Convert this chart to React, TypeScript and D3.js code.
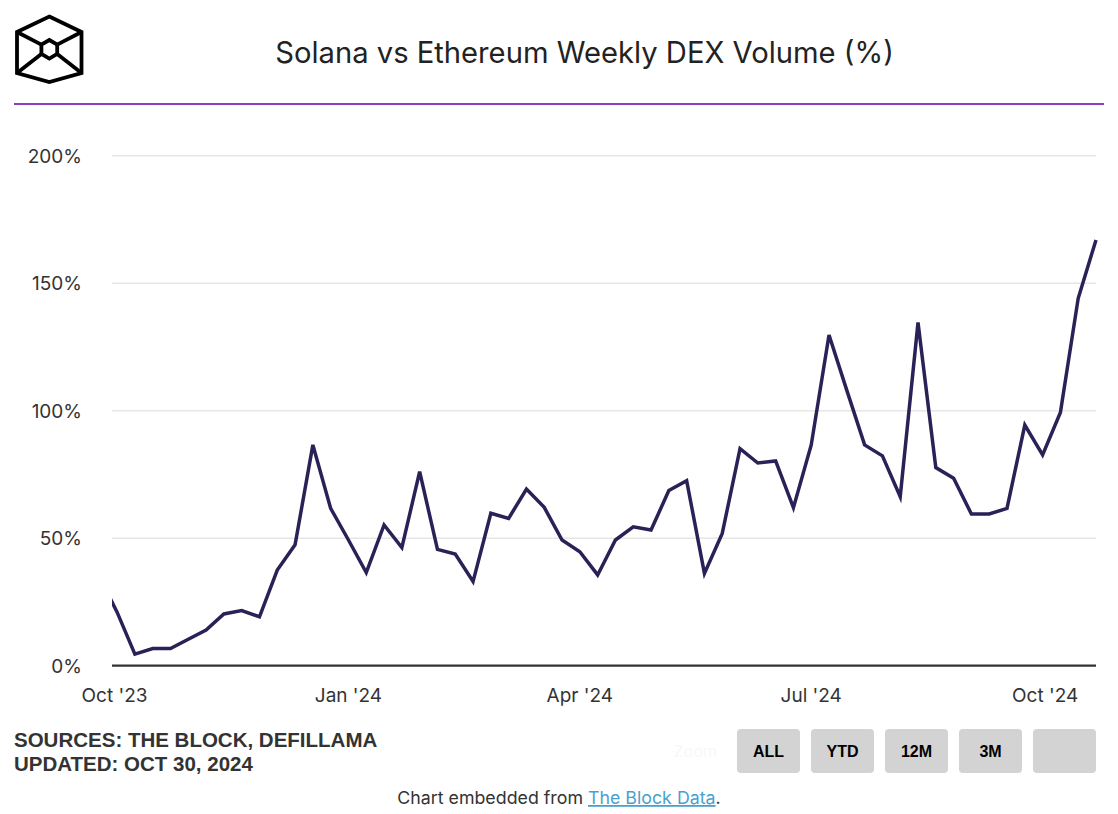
import React from "react";
import * as d3 from "d3";

const weekDates: string[] = [
  "2023-09-25", "2023-10-02", "2023-10-09", "2023-10-16", "2023-10-23", "2023-10-30",
  "2023-11-06", "2023-11-13", "2023-11-20", "2023-11-27",
  "2023-12-04", "2023-12-11", "2023-12-18", "2023-12-25",
  "2024-01-01", "2024-01-08", "2024-01-15", "2024-01-22", "2024-01-29",
  "2024-02-05", "2024-02-12", "2024-02-19", "2024-02-26",
  "2024-03-04", "2024-03-11", "2024-03-18", "2024-03-25",
  "2024-04-01", "2024-04-08", "2024-04-15", "2024-04-22", "2024-04-29",
  "2024-05-06", "2024-05-13", "2024-05-20", "2024-05-27",
  "2024-06-03", "2024-06-10", "2024-06-17", "2024-06-24",
  "2024-07-01", "2024-07-08", "2024-07-15", "2024-07-22", "2024-07-29",
  "2024-08-05", "2024-08-12", "2024-08-19", "2024-08-26",
  "2024-09-02", "2024-09-09", "2024-09-16", "2024-09-23", "2024-09-30",
  "2024-10-07", "2024-10-14", "2024-10-21",
];

const solVsEthPct: number[] = [
  35, 21, 4.5, 6.7, 6.7, 10.4,
  14.0, 20.3, 21.6, 19.2,
  37.5, 47.4, 86.6, 61.7,
  49.3, 36.5, 55.2, 46.3, 76.1,
  45.6, 43.8, 33.0, 59.8,
  57.8, 69.3, 62.1, 49.3,
  44.7, 35.6, 49.3, 54.5, 53.2,
  68.7, 72.6, 36.2, 51.9,
  85.1, 79.5, 80.3, 62.0,
  86.6, 129.7, 108, 86.6, 82.3,
  66.3, 134.6, 77.7, 73.5,
  59.5, 59.5, 61.7, 94.4, 82.7,
  99.3, 144.1, 167.0,
];

const xDomain: string[] = ["2023-09-30", "2024-10-21"];
const xTickDates: string[] = ["2023-10-01", "2024-01-01", "2024-04-01", "2024-07-01", "2024-10-01"];
const xTickLabels: string[] = ["Oct '23", "Jan '24", "Apr '24", "Jul '24", "Oct '24"];
const yTicks: number[] = [0, 50, 100, 150, 200];
const rangeButtons: string[] = ["ALL", "YTD", "12M", "3M", ""];

const TITLE = "Solana vs Ethereum Weekly DEX Volume (%)";
const SOURCES = "SOURCES: THE BLOCK, DEFILLAMA";
const UPDATED = "UPDATED: OCT 30, 2024";

const W = 1118;
const H = 814;
const plot = { left: 112, right: 1096, top: 155.8, bottom: 665.7 };

const parse = d3.timeParse("%Y-%m-%d");

export default function App() {
  const x = d3
    .scaleTime()
    .domain(xDomain.map((d) => parse(d) as Date))
    .range([plot.left, plot.right]);
  const y = d3.scaleLinear().domain([0, 200]).range([plot.bottom, plot.top]);

  const pts = weekDates.map((d, i) => ({ date: parse(d) as Date, v: solVsEthPct[i] }));
  const line = d3
    .line<{ date: Date; v: number }>()
    .x((d) => x(d.date))
    .y((d) => y(d.v));

  const sansFont = "Inter, 'Noto Sans', sans-serif";
  const boldFont = "'Liberation Sans', Arial, Helvetica, sans-serif";

  const btnX0 = 737;
  const btnW = 63;
  const btnGap = 11;

  return (
    <div style={{ position: "absolute", left: 0, top: 0, width: W, height: H, background: "#fff" }}>
      <svg width={W} height={H} viewBox={`0 0 ${W} ${H}`} style={{ display: "block" }}>
        <rect x={0} y={0} width={W} height={H} fill="#ffffff" />
        {/* logo */}
        <g fill="none" stroke="#000" strokeWidth={3.8} strokeLinejoin="miter">
          <polygon points="49.3,16.5 81.5,32 81.5,73 49.3,82 17,73 17,32" />
          <polygon points="49.3,40 57.2,44.6 57.2,54 49.3,58.6 41.4,54 41.4,44.6" />
          <line x1={17} y1={32} x2={41.4} y2={44.6} />
          <line x1={81.5} y1={32} x2={57.2} y2={44.6} />
          <line x1={17} y1={73} x2={41.4} y2={54} />
          <line x1={81.5} y1={73} x2={57.2} y2={54} />
        </g>
        {/* title */}
        <text
          x={584.5}
          y={62.5}
          textAnchor="middle"
          fontFamily={sansFont}
          fontSize={29.2}
          fill="#222"
        >
          {TITLE}
        </text>
        <line x1={14} x2={1104} y1={104} y2={104} stroke="#8b3fbf" strokeWidth={2} />

        {/* gridlines */}
        {yTicks.map((t) =>
          t === 0 ? null : (
            <line
              key={`g${t}`}
              x1={plot.left}
              x2={plot.right}
              y1={y(t)}
              y2={y(t)}
              stroke="#e6e6e6"
              strokeWidth={1.5}
            />
          )
        )}
        {/* y labels */}
        {yTicks.map((t) => (
          <text
            key={`yl${t}`}
            x={82}
            y={y(t) + 7}
            textAnchor="end"
            fontFamily={sansFont}
            fontSize={19}
            fill="#333"
          >
            {`${t}%`}
          </text>
        ))}

        <defs>
          <clipPath id="plotClip">
            <rect x={plot.left} y={plot.top - 30} width={plot.right - plot.left + 2} height={plot.bottom - plot.top + 40} />
          </clipPath>
        </defs>
        <path
          d={line(pts) || ""}
          fill="none"
          stroke="#2a2257"
          strokeWidth={3.5}
          strokeLinejoin="miter"
          strokeLinecap="butt"
          clipPath="url(#plotClip)"
        />

        {/* x axis */}
        <line x1={plot.left} x2={plot.right} y1={plot.bottom} y2={plot.bottom} stroke="#333" strokeWidth={2.2} />
        {xTickDates.map((d, i) => (
          <text
            key={`xl${i}`}
            x={x(parse(d) as Date)}
            y={702}
            textAnchor="middle"
            fontFamily={sansFont}
            fontSize={19}
            fill="#333"
          >
            {xTickLabels[i]}
          </text>
        ))}

        {/* footer */}
        <text x={14} y={747} fontFamily={boldFont} fontWeight="bold" fontSize={20.5} fill="#333">
          {SOURCES}
        </text>
        <text x={14} y={771} fontFamily={boldFont} fontWeight="bold" fontSize={20.5} fill="#333">
          {UPDATED}
        </text>

        <text x={717} y={757} textAnchor="end" fontFamily={sansFont} fontSize={16} fill="#f8f8f8">
          Zoom
        </text>
        {rangeButtons.map((b, i) => {
          const bx = btnX0 + i * (btnW + btnGap);
          return (
            <g key={`b${i}`}>
              <rect x={bx} y={729} width={btnW} height={44} rx={4} ry={4} fill="#d3d3d3" />
              {b ? (
                <text
                  x={bx + btnW / 2}
                  y={757}
                  textAnchor="middle"
                  fontFamily={boldFont}
                  fontWeight="bold"
                  fontSize={16}
                  fill="#000"
                >
                  {b}
                </text>
              ) : null}
            </g>
          );
        })}

        <text x={559} y={804} textAnchor="middle" fontFamily={sansFont} fontSize={17.8} fill="#333">
          <tspan>Chart embedded from </tspan>
          <tspan fill="#4a9fd0" textDecoration="underline" style={{ textDecoration: "underline" }}>
            The Block Data
          </tspan>
          <tspan>.</tspan>
        </text>
      </svg>
    </div>
  );
}
